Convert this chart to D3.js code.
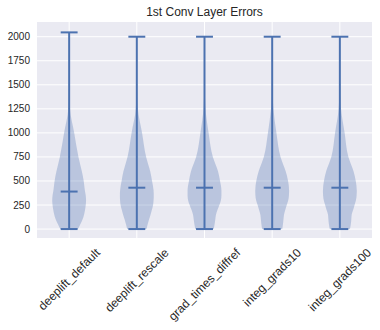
<!DOCTYPE html>
<html>
<head>
<meta charset="utf-8">
<script src="https://cdn.jsdelivr.net/npm/d3@7"></script>
<style>
  body { margin: 0; background: #fff; }
  text { font-family: "Liberation Sans", Arial, sans-serif; fill: #262626; }
</style>
</head>
<body>
<div id="chart"></div>
<script>
// categories and summary values
const methods = ["deeplift_default", "deeplift_rescale", "grad_times_diffref", "integ_grads10", "integ_grads100"];
const minValues = [0, 0, 0, 0, 0];
const maxValues = [2045, 2000, 2000, 2000, 2000];
const medianValues = [390, 430, 430, 430, 430];

// relative kde width at each error level (the last level is replaced by the series max)
const levels = [0, 50, 100, 150, 200, 250, 300, 350, 400, 500, 600, 750, 1000, 1250, 1500, 1750, 2000];
const density = [
  [0.52, 0.66, 0.79, 0.88, 0.94, 0.98, 1.00, 0.98, 0.93, 0.86, 0.75, 0.55, 0.30, 0.05, 0.01, 0.004, 0],
  [0.57, 0.64, 0.72, 0.81, 0.89, 0.96, 0.99, 1.00, 0.99, 0.90, 0.79, 0.55, 0.31, 0.06, 0.01, 0.004, 0],
  [0.54, 0.59, 0.63, 0.67, 0.76, 0.87, 0.96, 0.99, 0.99, 0.91, 0.79, 0.49, 0.24, 0.06, 0.012, 0.004, 0],
  [0.59, 0.63, 0.66, 0.69, 0.77, 0.85, 0.94, 0.98, 0.99, 0.93, 0.79, 0.49, 0.25, 0.07, 0.012, 0.004, 0],
  [0.59, 0.64, 0.67, 0.69, 0.78, 0.86, 0.94, 0.98, 0.99, 0.93, 0.80, 0.50, 0.28, 0.07, 0.012, 0.004, 0]
];
const yTicks = [0, 250, 500, 750, 1000, 1250, 1500, 1750, 2000];
const title = "1st Conv Layer Errors";

const W = 380, H = 330;
const margin = {top: 22, right: 8, bottom: 92, left: 37};
const blue = "#4C72B0";

const svg = d3.select("#chart").append("svg")
  .attr("width", W)
  .attr("height", H);

const x = d3.scaleLinear()
  .domain([0.525, 5.475])
  .range([margin.left, W - margin.right]);

const y = d3.scaleLinear()
  .domain([-93, 2153])
  .range([H - margin.bottom, margin.top]);

// background
svg.append("rect")
  .attr("x", margin.left)
  .attr("y", margin.top)
  .attr("width", W - margin.left - margin.right)
  .attr("height", H - margin.top - margin.bottom)
  .attr("fill", "#EAEAF2");

// grid lines
svg.append("g").selectAll("line")
  .data(yTicks)
  .join("line")
  .attr("x1", margin.left)
  .attr("x2", W - margin.right)
  .attr("y1", d => y(d))
  .attr("y2", d => y(d))
  .attr("stroke", "#fff")
  .attr("stroke-width", 1);

svg.append("g").selectAll("line")
  .data(methods)
  .join("line")
  .attr("x1", (d, i) => x(i + 1))
  .attr("x2", (d, i) => x(i + 1))
  .attr("y1", margin.top)
  .attr("y2", H - margin.bottom)
  .attr("stroke", "#fff")
  .attr("stroke-width", 1);

// y axis labels
svg.append("g").selectAll("text")
  .data(yTicks)
  .join("text")
  .attr("x", margin.left - 7)
  .attr("y", d => y(d))
  .attr("dy", "0.35em")
  .attr("text-anchor", "end")
  .attr("font-size", 10)
  .text(d => d);

// violins
const halfWidth = 0.25;
methods.forEach((m, i) => {
  let pos = i + 1;
  let dens = density[i];
  let dmax = d3.max(dens);
  let pts = levels.map((lv, j) => ({
    v: j === levels.length - 1 ? maxValues[i] : lv,
    w: dens[j] / dmax * halfWidth
  }));
  pts[0].v = minValues[i];

  let area = d3.area()
    .curve(d3.curveMonotoneY)
    .y(d => y(d.v))
    .x0(d => x(pos - d.w))
    .x1(d => x(pos + d.w));

  svg.append("path")
    .datum(pts)
    .attr("d", area)
    .attr("fill", blue)
    .attr("fill-opacity", 0.3);
});

// bars, caps and medians
const g = svg.append("g")
  .attr("stroke", blue)
  .attr("stroke-width", 2);

methods.forEach((m, i) => {
  let pos = i + 1;
  g.append("line")
    .attr("x1", x(pos)).attr("x2", x(pos))
    .attr("y1", y(minValues[i])).attr("y2", y(maxValues[i]));
  [minValues[i], maxValues[i], medianValues[i]].forEach(v => {
    g.append("line")
      .attr("x1", x(pos - 0.125)).attr("x2", x(pos + 0.125))
      .attr("y1", y(v)).attr("y2", y(v));
  });
});

// rotated x labels, centred under each tick
methods.forEach((m, i) => {
  let lab = svg.append("g");
  let t = lab.append("text")
    .attr("text-anchor", "middle")
    .attr("dominant-baseline", "central")
    .attr("font-size", 12)
    .text(m);
  let w = t.node().getComputedTextLength();
  let cy = 246 + (w + 13) / (2 * Math.SQRT2);
  lab.attr("transform", "translate(" + x(i + 1) + "," + cy + ") rotate(-45)");
});

// title
svg.append("text")
  .attr("x", (margin.left + W - margin.right) / 2)
  .attr("y", 16)
  .attr("text-anchor", "middle")
  .attr("font-size", 12)
  .text(title);
</script>
</body>
</html>
